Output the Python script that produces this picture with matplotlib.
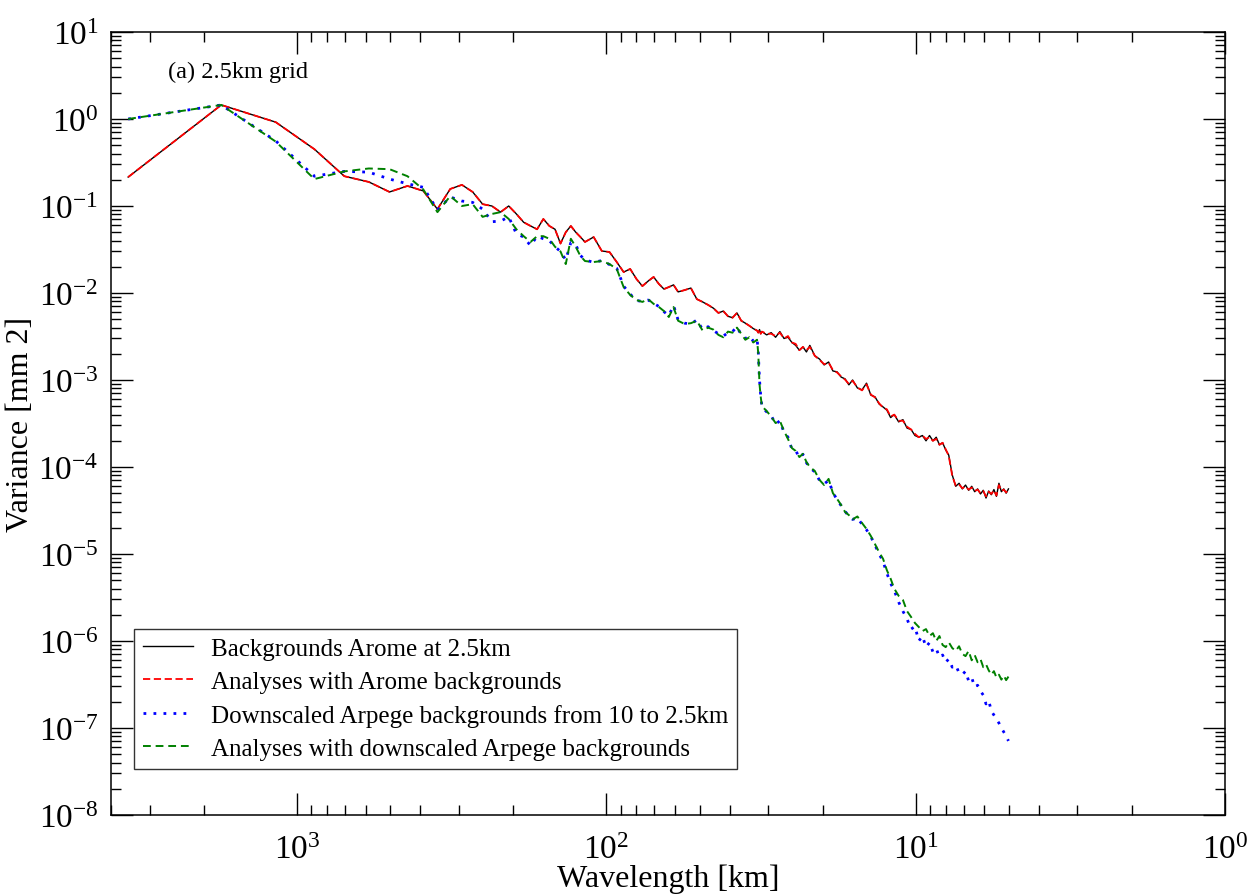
import matplotlib
matplotlib.use('Agg')
import matplotlib.pyplot as plt
from matplotlib.ticker import LogLocator, NullFormatter
import numpy as np

plt.rcParams['font.family'] = ['Liberation Serif', 'DejaVu Serif']
plt.rcParams['mathtext.fontset'] = 'custom'
plt.rcParams['mathtext.rm'] = 'Liberation Serif'
plt.rcParams['mathtext.it'] = 'Liberation Serif:italic'
plt.rcParams['mathtext.default'] = 'regular'

# spectral domain size (km); wavelength = domain / wavenumber index
domain_km = 3520.0

wavenumber = [1, 2, 3, 4, 5, 6, 7, 8, 9, 10, 11, 12, 13, 14, 15, 16, 17, 18, 19, 20,
              21, 22, 23, 24, 25, 26, 27, 28, 29, 30,
              32, 34, 36, 38, 40, 42, 44, 46, 48, 50, 52, 54, 56, 58, 60,
              63, 66, 69, 72, 75, 78, 81, 84, 87, 90, 93, 96, 99, 102, 105, 108,
              109, 110, 111, 112,
              116, 120, 124, 128, 132, 136, 140, 144, 148, 152, 156, 160,
              166, 172, 178, 184, 190, 196, 202, 208, 214, 220,
              228, 236, 244, 252, 260, 268, 276, 284, 292, 300,
              310, 320, 330, 340, 350, 360, 370, 380, 390, 400, 410, 420, 430, 440, 450,
              462, 474, 486, 498, 510, 522, 534, 546, 558, 570, 582, 594, 606, 618, 630,
              642, 654, 666, 678, 690, 702]

bg_arome = [0.215, 1.45, 0.92, 0.45, 0.22, 0.189, 0.145, 0.170, 0.149, 0.092,
            0.157, 0.175, 0.145, 0.105, 0.100, 0.085, 0.100, 0.081, 0.065, 0.059,
            0.054, 0.071, 0.059, 0.054, 0.037, 0.050, 0.059, 0.050, 0.044, 0.0386,
            0.044, 0.0304, 0.0296, 0.0227, 0.0174, 0.0189, 0.0145, 0.0120, 0.0137, 0.0153,
            0.0127, 0.0111, 0.0117, 0.0124, 0.0103,
            0.0108, 0.0114, 0.0085, 0.0079, 0.0073, 0.0067, 0.0059, 0.0062, 0.0054, 0.0052,
            0.0059, 0.0048, 0.0045, 0.0042, 0.0039, 0.0037,
            0.0035, 0.0038, 0.0034, 0.0036,
            0.0033, 0.0035, 0.0031, 0.0036, 0.0030, 0.0031, 0.0027, 0.0025, 0.0022, 0.0024,
            0.0021, 0.0025,
            0.0019, 0.00174, 0.00149, 0.00161, 0.00127, 0.00124, 0.00108, 0.00103, 0.00088, 0.00100,
            0.00081, 0.00077, 0.00092, 0.00067, 0.00064, 0.00053, 0.00049, 0.00045, 0.00037, 0.00040,
            0.00033, 0.00035, 0.00028, 0.00027, 0.00023, 0.00022, 0.00023, 0.00020, 0.00023, 0.00020,
            0.00022, 0.00018, 0.00019, 0.000157, 0.000137,
            8.1e-5, 6.0e-5, 6.5e-5, 5.6e-5, 6.2e-5, 5.4e-5, 6.0e-5, 5.2e-5, 5.6e-5, 4.9e-5,
            5.4e-5, 4.4e-5, 5.3e-5, 4.8e-5, 5.5e-5, 4.6e-5, 6.5e-5, 5.2e-5, 5.6e-5, 5.0e-5, 5.6e-5]

an_arome = [0.215, 1.45, 0.92, 0.45, 0.22, 0.189, 0.145, 0.170, 0.149, 0.092,
            0.157, 0.175, 0.145, 0.105, 0.100, 0.085, 0.100, 0.081, 0.065, 0.059,
            0.054, 0.071, 0.059, 0.054, 0.037, 0.050, 0.059, 0.050, 0.044, 0.0386,
            0.044, 0.0304, 0.0296, 0.0227, 0.0174, 0.0189, 0.0145, 0.0120, 0.0137, 0.0153,
            0.0127, 0.0111, 0.0117, 0.0124, 0.0103,
            0.0108, 0.0114, 0.0085, 0.0079, 0.0073, 0.0067, 0.0059, 0.0062, 0.0054, 0.0052,
            0.0059, 0.0048, 0.0045, 0.0042, 0.0039, 0.0037,
            0.0035, 0.0038, 0.0034, 0.0036,
            0.0034, 0.0034, 0.0032, 0.0035, 0.0030, 0.0032, 0.0027, 0.0026, 0.0022, 0.0024,
            0.0022, 0.0024,
            0.0019, 0.00170, 0.00152, 0.00158, 0.00130, 0.00122, 0.00110, 0.00101, 0.00090, 0.00098,
            0.00082, 0.00076, 0.00089, 0.00068, 0.00063, 0.00054, 0.00048, 0.00046, 0.00038, 0.00040,
            0.00034, 0.00034, 0.00029, 0.00027, 0.00024, 0.00022, 0.00023, 0.00021, 0.00022, 0.00020,
            0.00021, 0.00018, 0.00019, 0.000160, 0.000135,
            7.9e-5, 6.1e-5, 6.3e-5, 5.7e-5, 6.0e-5, 5.5e-5, 5.8e-5, 5.3e-5, 5.5e-5, 5.0e-5,
            5.3e-5, 4.6e-5, 5.2e-5, 4.9e-5, 5.4e-5, 4.7e-5, 6.2e-5, 5.3e-5, 5.5e-5, 5.1e-5, 5.5e-5]

bg_arpege = [1.0, 1.45, 0.56, 0.22, 0.25, 0.245, 0.204, 0.18, 0.164, 0.09,
             0.127, 0.114, 0.11, 0.092, 0.066, 0.067, 0.075, 0.048, 0.044, 0.035,
             0.045, 0.042, 0.040, 0.034, 0.030, 0.024, 0.038, 0.036, 0.027, 0.024,
             0.0225, 0.0236, 0.0212, 0.0192, 0.0120, 0.0097, 0.0082, 0.0080, 0.0083, 0.0076,
             0.0070, 0.0061, 0.0055, 0.0072, 0.0049,
             0.0045, 0.0044, 0.0049, 0.0038, 0.0041, 0.0037, 0.0034, 0.0032, 0.0035, 0.0036,
             0.0041, 0.0033, 0.0030, 0.0032, 0.0028, 0.0030,
             0.0021, 0.0010, 0.00066, 0.00049,
             0.00043, 0.00039, 0.00031, 0.00034, 0.00025, 0.00022, 0.000160, 0.000155, 0.000128, 0.000140,
             0.000112, 0.000098,
             8.8e-5, 7.0e-5, 6.4e-5, 7.0e-5, 5.1e-5, 4.2e-5, 3.6e-5, 3.1e-5, 2.7e-5, 2.5e-5,
             2.6e-5, 2.2e-5, 1.90e-5, 1.58e-5, 1.26e-5, 1.0e-5, 8.2e-6, 6.0e-6, 4.6e-6, 3.8e-6,
             2.8e-6, 2.2e-6, 1.79e-6, 1.37e-6, 1.47e-6, 1.0e-6, 1.14e-6, 8.5e-7, 9.6e-7, 7.5e-7,
             8.2e-7, 6.5e-7, 6.9e-7, 5.7e-7, 6.2e-7,
             5.0e-7, 5.3e-7, 4.3e-7, 4.1e-7, 4.5e-7, 3.47e-7, 3.8e-7, 2.96e-7, 3.1e-7, 2.66e-7,
             2.39e-7, 1.89e-7, 2.07e-7, 1.57e-7, 1.41e-7, 1.27e-7, 1.14e-7, 1.0e-7, 9.0e-8, 8.1e-8, 7.1e-8]

an_arpege = [1.0, 1.45, 0.55, 0.204, 0.25, 0.27, 0.265, 0.22, 0.155, 0.085,
             0.13, 0.10, 0.105, 0.075, 0.081, 0.085, 0.071, 0.054, 0.045, 0.0386,
             0.045, 0.045, 0.042, 0.034, 0.030, 0.0215, 0.042, 0.034, 0.0266, 0.0233,
             0.0227, 0.0233, 0.0215, 0.0189, 0.0117, 0.0095, 0.0083, 0.0079, 0.0085, 0.0075,
             0.0069, 0.0062, 0.0053, 0.0069, 0.0048,
             0.0044, 0.0045, 0.0048, 0.0037, 0.0040, 0.0038, 0.0033, 0.0031, 0.0036, 0.0035,
             0.0040, 0.0034, 0.0029, 0.0031, 0.0027, 0.0029,
             0.0020, 0.0009, 0.00064, 0.00050,
             0.00044, 0.00038, 0.00032, 0.00034, 0.00026, 0.00021, 0.000165, 0.000153, 0.000130, 0.000142,
             0.000114, 0.000100,
             9.0e-5, 7.1e-5, 6.2e-5, 7.3e-5, 5.0e-5, 4.3e-5, 3.66e-5, 3.04e-5, 2.8e-5, 2.5e-5,
             2.7e-5, 2.27e-5, 1.94e-5, 1.61e-5, 1.30e-5, 1.05e-5, 8.8e-6, 6.5e-6, 5.2e-6, 4.0e-6,
             3.3e-6, 2.96e-6, 2.2e-6, 1.89e-6, 1.61e-6, 1.45e-6, 1.30e-6, 1.37e-6, 1.14e-6, 1.23e-6,
             1.0e-6, 1.14e-6, 9.0e-7, 8.5e-7, 9.7e-7,
             8.3e-7, 7.7e-7, 8.7e-7, 7.1e-7, 6.7e-7, 7.7e-7, 6.0e-7, 6.9e-7, 5.7e-7, 6.2e-7,
             5.0e-7, 5.4e-7, 4.6e-7, 4.1e-7, 4.5e-7, 3.8e-7, 4.1e-7, 3.6e-7, 4.0e-7, 3.55e-7, 3.9e-7]

labels = ['Backgrounds Arome at 2.5km',
          'Analyses with Arome backgrounds',
          'Downscaled Arpege backgrounds from 10 to 2.5km',
          'Analyses with downscaled Arpege backgrounds']

wavelength = domain_km / np.array(wavenumber, dtype=float)

fig = plt.figure(figsize=(12.47, 8.95), dpi=100)
ax = fig.add_axes([111/1247, 1 - 816/895, 1114/1247, 783/895])

ax.plot(wavelength, bg_arome, color='black', lw=1.0, label=labels[0])
ax.plot(wavelength, an_arome, color='red', lw=1.3, dashes=(4, 2), label=labels[1])
ax.plot(wavelength, bg_arpege, color='blue', lw=2.0, dashes=(1, 2.6), label=labels[2])
ax.plot(wavelength, an_arpege, color='green', lw=1.4, dashes=(4, 2.5), label=labels[3])

ax.set_xscale('log')
ax.set_yscale('log')
ax.set_xlim(4000, 1)
ax.set_ylim(1e-8, 10)

for axis in (ax.xaxis, ax.yaxis):
    axis.set_major_locator(LogLocator(base=10, numticks=30))
    axis.set_minor_locator(LogLocator(base=10, subs=np.arange(2, 10), numticks=300))
    axis.set_minor_formatter(NullFormatter())

ax.tick_params(which='both', direction='in', top=True, right=True, width=1.0)
ax.tick_params(which='major', length=16, labelsize=24)
ax.tick_params(axis='y', which='major', pad=9)
ax.tick_params(axis='x', which='major', pad=14)
ax.tick_params(which='minor', length=7.5)
for s in ax.spines.values():
    s.set_linewidth(1.1)

ax.set_xlabel('Wavelength [km]', fontsize=23)
ax.xaxis.set_label_coords(0.5, -0.062)
ax.set_ylabel('Variance [mm 2]', fontsize=23)
ax.yaxis.set_label_coords(-0.068, 0.5)

ax.text(0.051, 0.95, '(a) 2.5km grid', transform=ax.transAxes, fontsize=17.5, va='center')

leg = ax.legend(loc='lower left', bbox_to_anchor=(0.021, 0.059), borderaxespad=0,
                fontsize=18, frameon=True, fancybox=False, handlelength=2.0,
                handletextpad=0.72, labelspacing=0.43, borderpad=0.35)
leg.get_frame().set_edgecolor('black')
leg.get_frame().set_linewidth(1.0)

fig.savefig('out.png', dpi=100)
